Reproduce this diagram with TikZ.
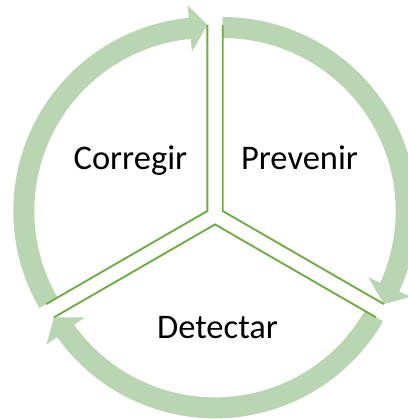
\documentclass[tikz,border=0pt]{standalone}
\usepackage{fontspec}
\setmainfont{Carlito}
\definecolor{ringc}{RGB}{186,213,177}
\definecolor{linec}{RGB}{112,173,71}
\newcommand\cyclearrow[3]{%
  \fill[ringstyle, shift={(#1)}] (#2:194pt) arc[start angle=#2, end angle={#3+5.5}, radius=194pt]
    -- ({#3+5.5}:207pt) -- (#3:186pt) -- ({#3+5.5}:160pt) -- ({#3+5.5}:173pt)
    arc[start angle={#3+5.5}, end angle=#2, radius=173pt] -- cycle;}
\begin{document}
\begin{tikzpicture}[x=1pt,y=1pt,
  sepline/.style={draw=linec, line width=1.9pt},
  ringstyle/.style={fill=ringc},
  lbl/.style={font=\fontsize{34.5}{40}\selectfont, anchor=base, inner sep=0pt}]
\useasboundingbox (0,0) rectangle (407,419);
\coordinate (pc) at (222.7,207.95);
\coordinate (cc) at (207.3,207.95);
\coordinate (dc) at (215,194.6);
% arrows
\cyclearrow{pc}{90}{-30}
\cyclearrow{cc}{210}{90}
\cyclearrow{dc}{330}{210}
% sector edges
\draw[sepline, shift={(pc)}] (90:186pt) -- (0,0) -- (-30:186pt);
\draw[sepline, shift={(cc)}] (90:186pt) -- (0,0) -- (210:186pt);
\draw[sepline, shift={(dc)}] (210:186pt) -- (0,0) -- (330:186pt);
% labels
\node[lbl] (corregir) at (130.4,249) {Corregir};
\node[lbl] (prevenir) at (299.5,249) {Prevenir};
\node[lbl] (detectar) at (217.5,80.7) {Detectar};
\end{tikzpicture}
\end{document}
